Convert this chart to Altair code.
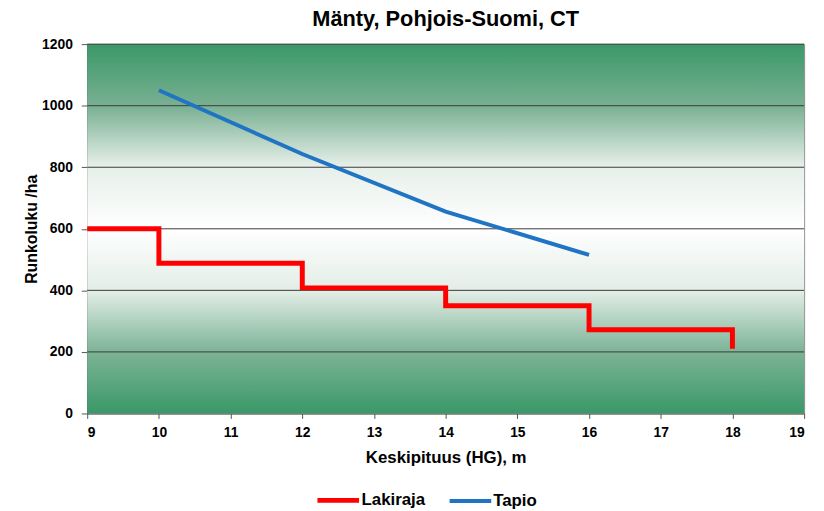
import altair as alt
import pandas as pd

# Lakiraja (step line) points
laki_x = [9, 10, 10, 12, 12, 14, 14, 16, 16, 18, 18]
laki_y = [600, 600, 488, 488, 408, 408, 350, 350, 272, 272, 210]
# Tapio
tapio_x = [10, 12, 14, 16]
tapio_y = [1050, 843, 656, 515]

series = ["Lakiraja", "Tapio"]
colors = ["#ff0000", "#1f74c4"]
x_ticks = list(range(9, 20))
y_ticks = list(range(0, 1201, 200))

rows = []
for i, (x, y) in enumerate(zip(laki_x, laki_y)):
    rows.append({"x": x, "y": y, "s": "Lakiraja", "o": i})
for i, (x, y) in enumerate(zip(tapio_x, tapio_y)):
    rows.append({"x": x, "y": y, "s": "Tapio", "o": i})
df = pd.DataFrame(rows)

W, H = 724, 373
FONT = "Liberation Sans"

green = "#3a9868"
bg = alt.Chart(pd.DataFrame({"a": [0]})).mark_rect(
    color=alt.Gradient(
        gradient="linear",
        stops=[
            alt.GradientStop(color=green, offset=0),
            alt.GradientStop(color="#7ab193", offset=0.17),
            alt.GradientStop(color="#e6efe9", offset=0.33),
            alt.GradientStop(color="#ffffff", offset=0.5),
            alt.GradientStop(color="#e2ede6", offset=0.67),
            alt.GradientStop(color="#7eb497", offset=0.83),
            alt.GradientStop(color=green, offset=1),
        ],
        x1=0, x2=0, y1=0, y2=1,
    )
).encode(x=alt.value(0), x2=alt.value(W), y=alt.value(0), y2=alt.value(H))

xscale = alt.Scale(domain=[9, 19], nice=False, zero=False)
yscale = alt.Scale(domain=[0, 1200], nice=False)
y_axis = alt.Axis(title="Runkoluku /ha", values=y_ticks, format="d", grid=False)
x_axis = alt.Axis(title="Keskipituus (HG), m", values=x_ticks, grid=False, format="d")

grid = alt.Chart(pd.DataFrame({"g": y_ticks[1:]})).mark_rule(
    color="#3a3a3a", strokeWidth=1
).encode(y=alt.Y("g:Q", scale=yscale, axis=y_axis, title="Runkoluku /ha"))

lines = alt.Chart(df).mark_line(strokeJoin="miter").encode(
    x=alt.X("x:Q", scale=xscale, axis=x_axis),
    y=alt.Y("y:Q", scale=yscale, axis=y_axis),
    color=alt.Color("s:N", scale=alt.Scale(domain=series, range=colors),
                    legend=alt.Legend(title=None, orient="none", direction="horizontal",
                                      legendX=230, legendY=437, symbolType="stroke",
                                      symbolSize=1764, symbolStrokeWidth=5,
                                      labelFontSize=17, labelFont=FONT, labelFontWeight="bold",
                                      labelColor="#000000", columnPadding=16, labelOffset=0)),
    strokeWidth=alt.StrokeWidth("s:N", scale=alt.Scale(domain=series, range=[5, 4]), legend=None),
    order="o:Q",
)

chart = alt.layer(bg, grid, lines).properties(
    width=W, height=H,
    autosize=alt.AutoSizeParams(type="none"),
    padding={"left": 80, "top": 34, "right": 12, "bottom": 95},
    title=alt.TitleParams("Mänty, Pohjois-Suomi, CT", font=FONT, fontSize=22,
                          fontWeight="bold", color="#000000", offset=6),
).configure_view(stroke="#888888", strokeWidth=1).configure_axis(
    labelFont=FONT, labelFontSize=14, labelFontWeight="bold", labelColor="#000000",
    titleFont=FONT, titleFontWeight="bold", titleColor="#000000",
    domainColor="#555555", tickColor="#555555",
).configure_axisX(labelPadding=7, titlePadding=11, tickSize=5, titleFontSize=17).configure_axisY(
    labelPadding=9, titlePadding=2, tickSize=6, titleFontSize=16
)

chart.save("out.html", embed_options={"renderer": "svg", "actions": False})
